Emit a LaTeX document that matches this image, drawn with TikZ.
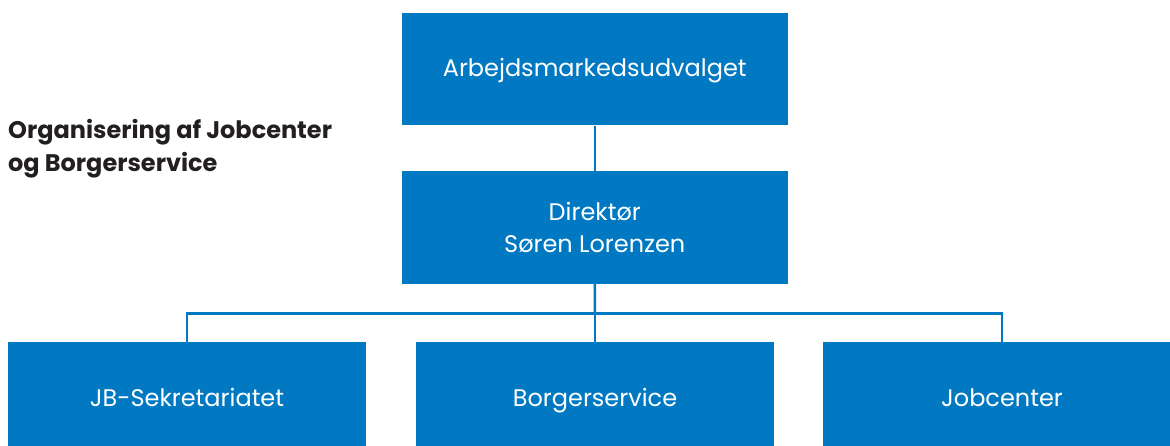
\documentclass[tikz,border=0pt]{standalone}
\usepackage{fontspec}
\setmainfont{Poppins}
\definecolor{boxblue}{RGB}{0,121,194}
\definecolor{titlegray}{RGB}{35,31,32}
\tikzset{
  orgbox/.style={fill=boxblue, draw=none, text=white, align=center, inner sep=0pt,
    minimum width=358pt, font=\fontsize{24}{32.3}\selectfont},
  oneline/.style={text height=16pt, text depth=2pt},
  conn/.style={draw=boxblue, line width=2.5pt},
}
\begin{document}
\begin{tikzpicture}[x=1pt,y=1pt]
\useasboundingbox (0,0) rectangle (1170,-446);
\clip (0,0) rectangle (1170,-446);
\node[orgbox, oneline, minimum width=385.5pt, minimum height=112.5pt] (udv) at (594.75,-69.25) {Arbejdsmarkedsudvalget};
\node[orgbox, minimum width=385.5pt, minimum height=113pt] (dir) at (594.75,-227.5) {Direktør\\Søren Lorenzen};
\node[orgbox, oneline, minimum height=114pt] (jb) at (187,-399) {JB-Sekretariatet};
\node[orgbox, oneline, minimum height=114pt] (bs) at (595,-399) {Borgerservice};
\node[orgbox, oneline, minimum height=114pt] (jc) at (1002,-399) {Jobcenter};
\node[anchor=base west, align=left, inner sep=0pt, text=titlegray, font=\fontsize{24}{33}\selectfont\bfseries] (title) at (8,-172) {Organisering af Jobcenter\\og Borgerservice};
\coordinate (bus) at (595,-313.5);
\draw[conn] (udv.south) -- (dir.north);
\draw[conn] (dir.south) -- (bus);
\draw[conn] (bus) -- (bs.north);
\draw[conn] (jb.north) |- (bus) -| (jc.north);
\end{tikzpicture}
\end{document}
